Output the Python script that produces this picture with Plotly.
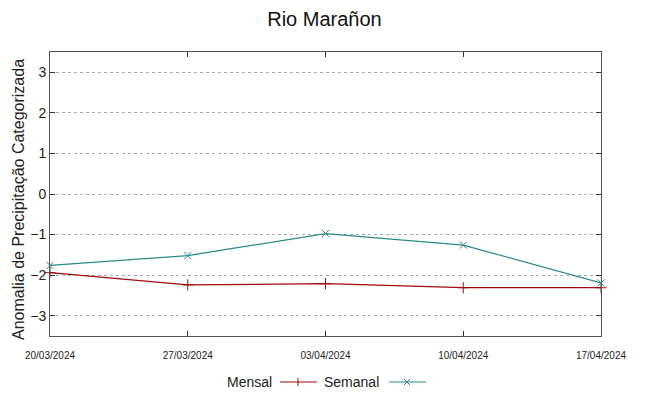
import plotly.graph_objects as go

dates = ["20/03/2024", "27/03/2024", "03/04/2024", "10/04/2024", "17/04/2024"]
mensal = [-1.94, -2.24, -2.21, -2.31, -2.31]
semanal = [-1.76, -1.52, -0.975, -1.26, -2.19]
y_ticks = [-3, -2, -1, 0, 1, 2, 3]

RED = "#a00a0a"
TEAL = "#2a8a8a"
FONT = "Liberation Sans, Arial, sans-serif"

W, H = 649, 396
ML, MR, MT, MB = 50, 48, 52, 60
PW, PH = W - ML - MR, H - MT - MB


def px_x(p):
    return (p - ML) / PW


def px_y(p):
    return (H - MB - p) / PH


idx = list(range(len(dates)))

fig = go.Figure()
fig.add_trace(go.Scatter(
    x=idx, y=mensal, mode="lines+markers", name="Mensal",
    line=dict(color=RED, width=1.2),
    marker=dict(symbol="cross-thin", size=8, line=dict(color=RED, width=1)),
    showlegend=False, cliponaxis=False))
fig.add_trace(go.Scatter(
    x=idx, y=semanal, mode="lines+markers", name="Semanal",
    line=dict(color=TEAL, width=1.2),
    marker=dict(symbol="x-thin", size=7, line=dict(color=TEAL, width=1)),
    showlegend=False, cliponaxis=False))

axis_common = dict(
    showline=True, linecolor="#555555", linewidth=1, mirror="allticks",
    ticks="inside", ticklen=5, tickcolor="#333333", zeroline=False)

fig.update_xaxes(
    range=[0, len(dates) - 1], tickvals=idx, ticktext=dates,
    showgrid=False, tickfont=dict(size=10, family=FONT, color="#222"),
    ticklabelstandoff=10,
    **axis_common)
fig.update_yaxes(
    range=[-3.5, 3.5], tickvals=y_ticks, showgrid=True, gridcolor="#aaaaaa",
    griddash="dot", gridwidth=1,
    tickfont=dict(size=14, family=FONT, color="#222"),
    **axis_common)

annotations = [dict(text="Anomalia de Precipitação Categorizada", x=px_x(18), y=px_y(200),
                    xref="paper", yref="paper", textangle=-90, showarrow=False,
                    xanchor="center", yanchor="middle",
                    font=dict(size=16, family=FONT, color="#222"))]
shapes = []

# custom legend (gnuplot style: text then sample)
LY = 382
ly = px_y(LY)
legend_items = [
    ("Mensal", RED, "plus", 274, 280, 317, 298),
    ("Semanal", TEAL, "x", 381, 389, 426, 407),
]
for name, col, mk, tx, x0, x1, mx in legend_items:
    annotations.append(dict(text=name, x=px_x(tx), y=ly, xref="paper", yref="paper",
                            xanchor="right", yanchor="middle", showarrow=False,
                            font=dict(size=14, family=FONT, color="#222")))
    shapes.append(dict(type="line", xref="paper", yref="paper", x0=px_x(x0), x1=px_x(x1),
                       y0=ly, y1=ly, line=dict(color=col, width=1.2)))
    if mk == "plus":
        shapes.append(dict(type="line", xref="paper", yref="paper", x0=px_x(mx), x1=px_x(mx),
                           y0=px_y(LY - 4), y1=px_y(LY + 4), line=dict(color=col, width=1)))
    else:
        for a, b in [(-3, -3), (-3, 3)]:
            shapes.append(dict(type="line", xref="paper", yref="paper",
                               x0=px_x(mx + a), x1=px_x(mx - a),
                               y0=px_y(LY + b), y1=px_y(LY - b), line=dict(color=col, width=1)))

fig.update_layout(
    width=W, height=H,
    margin=dict(l=ML, r=MR, t=MT, b=MB),
    paper_bgcolor="white", plot_bgcolor="white",
    title=dict(text="Rio Marañon", x=0.5, y=1 - 19 / H, xanchor="center", yanchor="middle",
               font=dict(size=20, family=FONT, color="#111")),
    font=dict(family=FONT),
    showlegend=False,
    shapes=shapes, annotations=annotations,
)

fig.write_html("out.html", config={"displayModeBar": False},
               post_script="document.body.style.margin='0';")
